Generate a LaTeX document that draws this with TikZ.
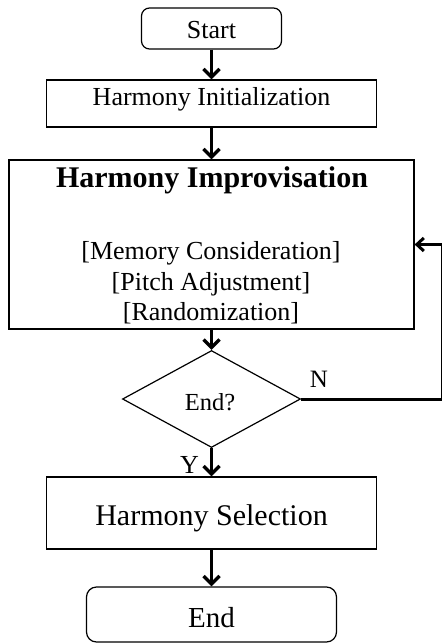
\documentclass[tikz,border=0pt]{standalone}
\usepackage{fontspec}
\setmainfont{Liberation Serif}
\usetikzlibrary{arrows.meta,shapes.geometric}
\begin{document}
\begin{tikzpicture}[x=1pt,y=-1pt,
  box/.style={draw=black,line width=1.2pt,inner sep=0pt},
  rbox/.style={box,rounded corners=8pt},
  txt/.style={inner sep=0pt,anchor=base,font=\fontsize{26}{31}\selectfont},
  arr/.style={line width=3.4pt,-{Straight Barb[length=8pt,width=16pt]}},
  farr/.style={line width=3pt,-{Straight Barb[length=7pt,width=13pt]}},
  line/.style={line width=3pt}]
\useasboundingbox (0,0) rectangle (441,644);
% boxes
\node[rbox,minimum width=140pt,minimum height=41pt] (start) at (211.5,28.5) {};
\node[box,minimum width=330pt,minimum height=47pt] (init) at (211.5,103.5) {};
\node[box,minimum width=405pt,minimum height=169pt] (imp) at (211.5,244.5) {};
\node[draw=black,line width=1.2pt,shape=diamond,inner sep=0pt,minimum width=178pt,minimum height=97pt] (dec) at (211.5,399) {};
\node[box,minimum width=330pt,minimum height=72pt] (sel) at (211.5,513) {};
\node[rbox,rounded corners=10pt,minimum width=250pt,minimum height=55pt] (fin) at (211.5,614.5) {};
% texts
\node[txt] (tstart) at (211.5,39) {Start};
\node[txt] (tinit) at (211.5,106) {Harmony Initialization};
\node[txt,font=\fontsize{30}{36}\selectfont\bfseries] (timp) at (212,188) {Harmony Improvisation};
\node[txt] (tmem) at (211,259) {[Memory Consideration]};
\node[txt] (tpitch) at (211,290) {[Pitch Adjustment]};
\node[txt] (trand) at (211,320) {[Randomization]};
\node[txt,font=\fontsize{24.5}{29}\selectfont] (tdec) at (210,410) {End?};
\node[txt,font=\fontsize{25}{30}\selectfont] (tn) at (319,387) {N};
\node[txt] (ty) at (189.5,473) {Y};
\node[txt,font=\fontsize{30}{36}\selectfont] (tsel) at (211.5,525) {Harmony Selection};
\node[txt,font=\fontsize{29}{35}\selectfont] (tfin) at (211.5,627) {End};
% connectors
\draw[arr] (start) -- (init);
\draw[arr] (init) -- (imp);
\draw[arr] (imp) -- (dec);
\draw[arr] (dec) -- (sel);
\draw[arr] (sel) -- (fin);
\coordinate (fb) at (442.6,399);
\draw[line] (dec.east) -- (fb);
\draw[farr] (fb) |- (imp.east);
\end{tikzpicture}
\end{document}
